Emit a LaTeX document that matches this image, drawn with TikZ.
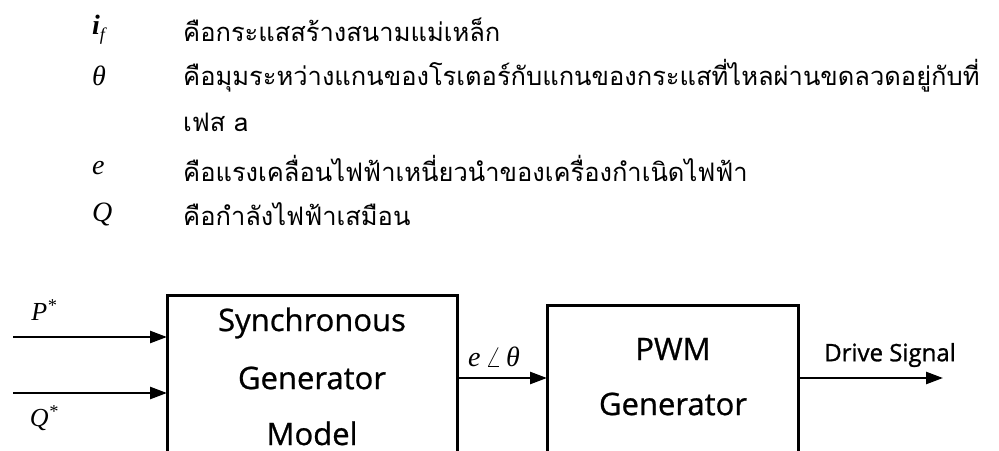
\documentclass[tikz,border=0pt]{standalone}
\usepackage{fontspec}
\usetikzlibrary{arrows.meta}
\newfontfamily\thaifont[Script=Thai]{Loma}
\newfontfamily\tms{Liberation Serif}
\newfontfamily\blockfont[FakeBold=0.8]{Open Sans}
\newfontfamily\labelfont[FakeBold=1.2]{Open Sans}
\tikzset{
  x=1pt, y=-1pt,
  desc/.style={anchor=west, inner sep=0pt, font=\thaifont\fontsize{25.5}{25.5}\selectfont},
  sym/.style={anchor=west, inner sep=0pt, font=\tms\itshape\fontsize{28}{28}\selectfont},
  blockbox/.style={draw, line width=3pt},
  blocktext/.style={inner sep=0pt, font=\blockfont\fontsize{31}{31}\selectfont},
  sig/.style={line width=2.5pt, -{Triangle[length=17pt,width=12pt]}},
  siglabel/.style={inner sep=0pt, font=\tms\itshape\fontsize{26}{26}\selectfont},
}
\begin{document}
\begin{tikzpicture}
\useasboundingbox (0,0) rectangle (999,450);
\clip (0,0) rectangle (999,450);

% symbol list
\node[sym] (s1) at (92,30) {\textbf{i}\raisebox{-6pt}{\fontsize{18}{18}\selectfont f}};
\node[desc] (d1) at (183,30) {คือกระแสสร้างสนามแม่เหล็ก};
\node[sym] (s2) at (92,76) {θ};
\node[desc] (d2) at (183,76) {คือมุมระหว่างแกนของโรเตอร์กับแกนของกระแสที่ไหลผ่านขดลวดอยู่กับที่};
\node[desc] (d3) at (183,122) {เฟส a};
\node[sym] (s4) at (92,168) {e};
\node[desc] (d4) at (183,168) {คือแรงเคลื่อนไฟฟ้าเหนี่ยวนำของเครื่องกำเนิดไฟฟ้า};
\node[sym] (s5) at (92,214) {Q};
\node[desc] (d5) at (183,214) {คือกำลังไฟฟ้าเสมือน};

% blocks
\draw[blockbox] (167,295) rectangle (457,470);
\node[blocktext] (sg1) at (312,323) {Synchronous};
\node[blocktext] (sg2) at (312,378) {Generator};
\node[blocktext, anchor=base, text depth=0pt] (sg3) at (312,445) {Model};
\coordinate (sgR) at (457,378);

\draw[blockbox] (547,305) rectangle (798,470);
\node[blocktext] (pw1) at (673,349) {PWM};
\node[blocktext] (pw2) at (673,404) {Generator};
\coordinate (pwL) at (547,378);
\coordinate (pwR) at (798,378);

% inputs
\coordinate (pin) at (13,337);
\coordinate (qin) at (13,393);
\coordinate (pend) at (167,337);
\coordinate (qend) at (167,393);
\draw[sig] (pin) -- (pend);
\draw[sig] (qin) -- (qend);
\node[siglabel] (pl) at (44,310) {P\textsuperscript{*}};
\node[siglabel] (ql) at (44,418) {Q\textsuperscript{*}};

% connections
\draw[sig] (sgR) -- (pwL);
\node[siglabel, font=\tms\itshape\fontsize{28}{28}\selectfont] (el) at (494,357) {e\,$\angle$\,θ};
\coordinate (dout) at (943,378);
\draw[sig] (pwR) -- (dout);
\node[inner sep=0pt, font=\labelfont\fontsize{24}{24}\selectfont] (dl) at (890,355) {Drive Signal};
\end{tikzpicture}
\end{document}
